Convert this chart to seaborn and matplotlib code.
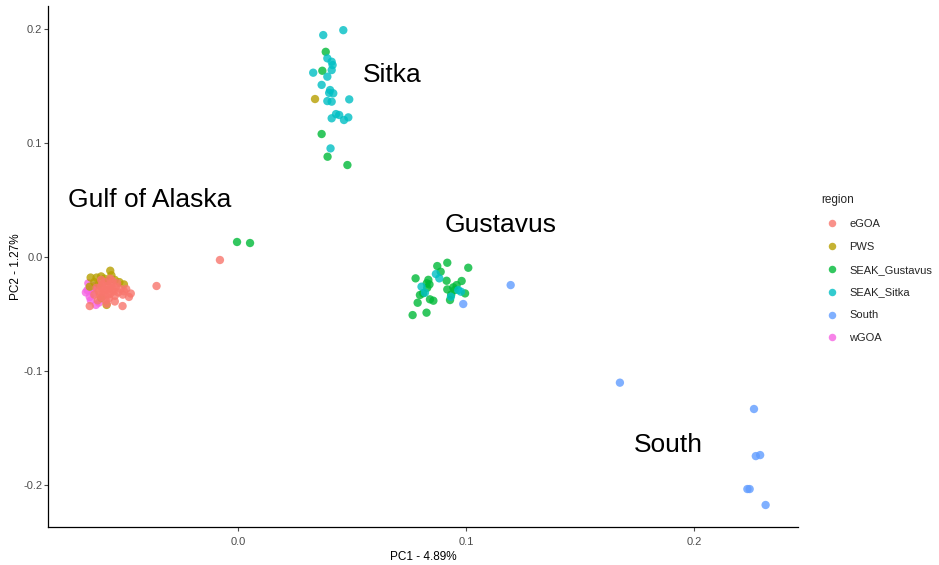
import matplotlib
matplotlib.use("Agg")
import matplotlib.pyplot as plt
import seaborn as sns
import pandas as pd

# ---- data ----
regions = ["eGOA", "PWS", "SEAK_Gustavus", "SEAK_Sitka", "South", "wGOA"]
palette = ["#F8766D", "#B79F00", "#00BA38", "#00BFC4", "#619CFF", "#F564E3"]

wgoa_pc1 = [-0.0667, -0.0650, -0.0623, -0.0656, -0.0640, -0.0660, -0.0635, -0.0645, -0.0625, -0.0610]
wgoa_pc2 = [-0.031, -0.035, -0.042, -0.023, -0.028, -0.029, -0.032, -0.038, -0.025, -0.040]

pws_pc1 = [-0.0560, -0.0646, -0.0620, -0.0600, -0.0585, -0.0500, -0.0576, -0.0630, -0.0610,
           -0.0540, -0.0520, -0.0650, -0.0600, -0.0555, -0.0570, 0.0338]
pws_pc2 = [-0.012, -0.018, -0.018, -0.017, -0.019, -0.024, -0.042, -0.022, -0.024,
           -0.020, -0.022, -0.026, -0.036, -0.016, -0.021, 0.1386]

egoa_pc1 = [-0.0576, -0.0560, -0.0590, -0.0545, -0.0600, -0.0570, -0.0555, -0.0585, -0.0610, -0.0535,
            -0.0565, -0.0595, -0.0540, -0.0620, -0.0580, -0.0550, -0.0600, -0.0525, -0.0630, -0.0572,
            -0.0548, -0.0588, -0.0605, -0.0560, -0.0515, -0.0505, -0.0500, -0.0470, -0.0478, -0.0490,
            -0.0650, -0.0506, -0.0357, -0.0079, -0.0540, -0.0615, -0.0575, -0.0530, -0.0595, -0.0560]
egoa_pc2 = [-0.029, -0.027, -0.031, -0.030, -0.026, -0.033, -0.024, -0.022, -0.030, -0.026,
            -0.036, -0.035, -0.034, -0.027, -0.038, -0.021, -0.020, -0.031, -0.033, -0.025,
            -0.028, -0.028, -0.033, -0.032, -0.028, -0.033, -0.030, -0.032, -0.035, -0.028,
            -0.043, -0.043, -0.0254, -0.0026, -0.039, -0.038, -0.041, -0.023, -0.024, -0.019]

gus_pc1 = [0.0874, 0.0918, 0.1010, 0.0779, 0.0889, 0.0835, 0.0828, 0.0840, 0.0915, 0.0981,
           0.0959, 0.0944, 0.0918, 0.0996, 0.0798, 0.0812, 0.0842, 0.0857, 0.0788, 0.0930,
           0.0935, 0.0827, 0.0766, 0.0950, 0.0830,
           0.0385, 0.0370, 0.0367, 0.0393, 0.0480,
           -0.0004, 0.0053]
gus_pc2 = [-0.0079, -0.0050, -0.0094, -0.0187, -0.0129, -0.0200, -0.0230, -0.0240, -0.0208, -0.0210,
           -0.0246, -0.0266, -0.0284, -0.0319, -0.0333, -0.0318, -0.0371, -0.0383, -0.0401, -0.0377,
           -0.0330, -0.0488, -0.0509, -0.0290, -0.0270,
           0.1800, 0.1634, 0.1079, 0.0880, 0.0807,
           0.0132, 0.0123]

sitka_pc1 = [0.0374, 0.0462, 0.0392, 0.0411, 0.0415, 0.0411, 0.0330, 0.0392, 0.0367, 0.0404,
             0.0418, 0.0392, 0.0411, 0.0488, 0.0430, 0.0444, 0.0411, 0.0465, 0.0484, 0.0406, 0.0400,
             0.0868, 0.0883, 0.0805, 0.0820, 0.0966, 0.0978, 0.0934]
sitka_pc2 = [0.1947, 0.1990, 0.1743, 0.1713, 0.1684, 0.1640, 0.1617, 0.1582, 0.1510, 0.1465,
             0.1436, 0.1368, 0.1363, 0.1383, 0.1254, 0.1246, 0.1217, 0.1202, 0.1225, 0.0953, 0.1440,
             -0.0149, -0.0187, -0.0260, -0.0313, -0.0290, -0.0304, -0.0348]

south_pc1 = [0.0988, 0.1196, 0.1675, 0.2263, 0.2271, 0.2290, 0.2234, 0.2244, 0.2314]
south_pc2 = [-0.0412, -0.0246, -0.1102, -0.1333, -0.1746, -0.1737, -0.2035, -0.2035, -0.2175]

labels_text = ["Gulf of Alaska", "Sitka", "Gustavus", "South"]
labels_pc1 = [-0.0386, 0.0675, 0.1150, 0.1886]
labels_pc2 = [0.0500, 0.1600, 0.0280, -0.1650]

# ---- build table (draw order: wGOA, PWS, eGOA, Gustavus, Sitka, South) ----
parts = [("wGOA", wgoa_pc1, wgoa_pc2), ("PWS", pws_pc1, pws_pc2), ("eGOA", egoa_pc1, egoa_pc2),
         ("SEAK_Gustavus", gus_pc1, gus_pc2), ("SEAK_Sitka", sitka_pc1, sitka_pc2),
         ("South", south_pc1, south_pc2)]
frames = [pd.DataFrame({"PC1": a, "PC2": b, "region": r}) for r, a, b in parts]
df = pd.concat(frames, ignore_index=True)

sns.set_style("white")
plt.rcParams["font.family"] = ["Liberation Sans", "DejaVu Sans"]

fig = plt.figure(figsize=(9.39, 5.65), dpi=100)
ax = fig.add_axes([48 / 939, 1 - 527 / 565, (798 - 48) / 939, (527 - 6) / 565])

sns.scatterplot(data=df, x="PC1", y="PC2", hue="region", hue_order=regions,
                palette=palette, s=36, alpha=0.8, linewidth=0, ax=ax, legend=True)

for t, xx, yy in zip(labels_text, labels_pc1, labels_pc2):
    ax.text(xx, yy, t, fontsize=19, ha="center", va="center", color="black")

ax.set_xlim(-0.0833, 0.2456)
ax.set_ylim(-0.2368, 0.2202)
ax.set_xticks([0.0, 0.1, 0.2])
ax.set_yticks([-0.2, -0.1, 0.0, 0.1, 0.2])
ax.set_xticklabels(["0.0", "0.1", "0.2"])
ax.set_yticklabels(["-0.2", "-0.1", "0.0", "0.1", "0.2"])
ax.tick_params(axis="both", labelsize=8, colors="#4D4D4D", length=3, width=0.8,
               direction="out", bottom=True, left=True)
ax.tick_params(axis="y", pad=1)
ax.tick_params(axis="x", pad=4)
ax.tick_params(axis="both", labelcolor="#4D4D4D")
for side in ["top", "right"]:
    ax.spines[side].set_visible(False)
for side in ["left", "bottom"]:
    ax.spines[side].set_color("black")
    ax.spines[side].set_linewidth(0.9)
ax.set_xlabel("PC1 - 4.89%", fontsize=8.5, color="black", labelpad=3)
ax.set_ylabel("PC2 - 1.27%", fontsize=8.5, color="black", labelpad=1)

handles, labs = ax.get_legend_handles_labels()
ax.get_legend().remove()
leg = fig.legend(handles, labs, title="region", loc="upper left",
                 bbox_to_anchor=(811 / 939, 1 - 184 / 565), frameon=False,
                 fontsize=8, title_fontsize=8.5, labelspacing=1.16,
                 handletextpad=0.55, markerscale=0.9)
leg._legend_box.align = "left"

fig.savefig("out.png", dpi=100)
